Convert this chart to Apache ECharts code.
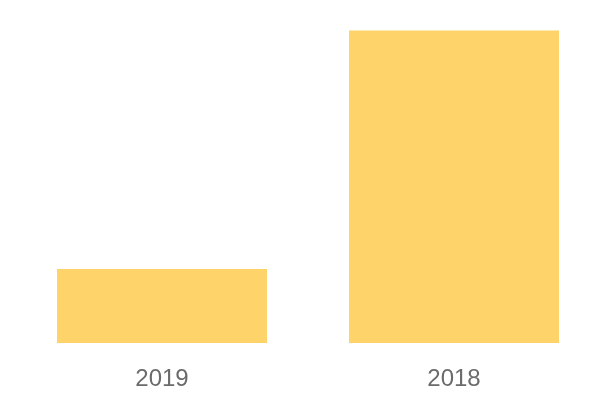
<!DOCTYPE html>
<html><head><meta charset="utf-8">
<script src="https://cdn.jsdelivr.net/npm/echarts@6/dist/echarts.min.js"></script>
<style>html,body{margin:0;padding:0;background:#fff}#c{width:600px;height:400px}</style>
</head><body><div id="c"></div>
<script>
const categories = ['2019', '2018'];
const values = [45, 190];

const chart = echarts.init(document.getElementById('c'), null, {renderer: 'canvas'});
chart.setOption({
  animation: false,
  grid: {left: 16, right: 0, top: 30.5, bottom: 57, containLabel: false},
  xAxis: {
    type: 'category', data: categories,
    axisLine: {show: false}, axisTick: {show: false},
    axisLabel: {color: '#6b6b6b', fontSize: 24, margin: 24, fontFamily: 'Liberation Sans'}
  },
  yAxis: {type: 'value', min: 0, max: 190, show: false, splitLine: {show: false}},
  series: [{type: 'bar', data: values, barWidth: 210, itemStyle: {color: '#FED46A'}}]
});
</script></body></html>
